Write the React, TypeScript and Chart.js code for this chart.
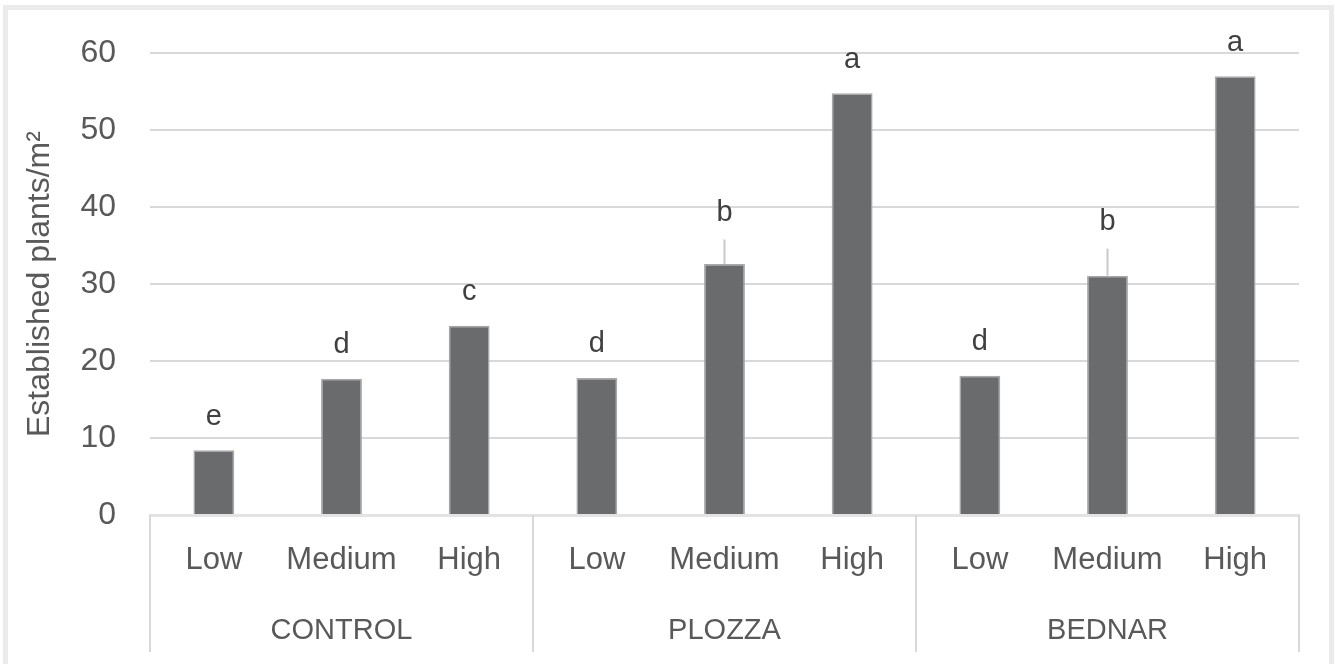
import React, { useEffect, useRef } from "react";
import { Chart, registerables } from "chart.js";

Chart.register(...registerables);

const categories = ["Low", "Medium", "High", "Low", "Medium", "High", "Low", "Medium", "High"];
const groups = ["CONTROL", "PLOZZA", "BEDNAR"];
const values = [8.4, 17.7, 24.6, 17.8, 32.6, 54.8, 18.1, 31.1, 57.0];
const errors = [0, 0, 0, 0, 3.2, 0, 0, 3.5, 0];
const letters = ["e", "d", "c", "d", "b", "a", "d", "b", "a"];
const yTicks = [0, 10, 20, 30, 40, 50, 60];

const FONT = "'Liberation Sans', Arial, sans-serif";
const TEXT = "#595959";
const GRID = "#d9d9d9";

const decorPlugin = {
  id: "decor",
  beforeDraw(chart: any) {
    const ctx = chart.ctx;
    ctx.save();
    ctx.fillStyle = "#ffffff";
    ctx.fillRect(0, 0, chart.width, chart.height);
    ctx.strokeStyle = "#ebebeb";
    ctx.lineWidth = 5;
    ctx.strokeRect(5.5, 7.5, chart.width - 9, chart.height + 40);
    ctx.restore();
  },
  afterDatasetsDraw(chart: any) {
    const ctx = chart.ctx;
    const x = chart.scales.x;
    const y = chart.scales.y;
    const area = chart.chartArea;
    ctx.save();
    // error bars
    ctx.strokeStyle = "#c8c8c8";
    ctx.lineWidth = 2;
    values.forEach((v, i) => {
      if (errors[i] > 0) {
        const px = x.getPixelForValue(i);
        ctx.beginPath();
        ctx.moveTo(px, y.getPixelForValue(v));
        ctx.lineTo(px, y.getPixelForValue(v + errors[i]));
        ctx.stroke();
      }
    });
    // significance letters
    ctx.fillStyle = "#404040";
    ctx.font = `29px ${FONT}`;
    ctx.textAlign = "center";
    ctx.textBaseline = "bottom";
    values.forEach((v, i) => {
      const px = x.getPixelForValue(i);
      const top = y.getPixelForValue(v + errors[i]);
      const gap = errors[i] > 0 ? 12 : 19;
      ctx.fillText(letters[i], px, top - gap);
    });
    // group separators and labels
    const per = categories.length / groups.length;
    const step = (area.right - area.left) / categories.length;
    ctx.strokeStyle = GRID;
    ctx.lineWidth = 2;
    for (let g = 0; g <= groups.length; g++) {
      const gx = area.left + g * per * step;
      ctx.beginPath();
      ctx.moveTo(gx, area.bottom);
      ctx.lineTo(gx, area.bottom + 137);
      ctx.stroke();
    }
    ctx.fillStyle = TEXT;
    ctx.font = `29px ${FONT}`;
    ctx.textBaseline = "middle";
    groups.forEach((name, g) => {
      const cx = area.left + (g * per + per / 2) * step;
      ctx.fillText(name, cx, area.bottom + 116);
    });
    ctx.restore();
  },
};

export default function App() {
  const canvasRef = useRef<HTMLCanvasElement | null>(null);

  useEffect(() => {
    const canvas = canvasRef.current;
    if (!canvas) return;
    const chart = new Chart(canvas, {
      type: "bar",
      data: {
        labels: categories,
        datasets: [
          {
            data: values,
            backgroundColor: "#6a6b6d",
            borderColor: "#a8a8aa",
            borderWidth: 1.5,
            categoryPercentage: 1,
            barPercentage: 0.32,
          },
        ],
      },
      options: {
        animation: false,
        responsive: true,
        maintainAspectRatio: false,
        layout: { padding: { left: 0, top: 50, right: 36, bottom: 0 } },
        plugins: {
          legend: { display: false },
          tooltip: { enabled: false },
        },
        scales: {
          x: {
            grid: { display: false, drawTicks: false },
            border: { display: true, color: "#e3e3e3", width: 3 },
            ticks: {
              color: TEXT,
              font: { family: FONT, size: 31 },
              padding: 27,
              maxRotation: 0,
              autoSkip: false,
            },
            afterFit: (s: any) => {
              s.height = 149;
            },
          },
          y: {
            min: 0,
            max: 60,
            afterBuildTicks: (s: any) => {
              s.ticks = yTicks.map((v) => ({ value: v }));
            },
            grid: { color: GRID, lineWidth: 2, drawTicks: false },
            border: { display: false },
            ticks: {
              color: TEXT,
              font: { family: FONT, size: 32 },
              padding: 34,
            },
            title: {
              display: true,
              text: "Established plants/m²",
              color: TEXT,
              font: { family: FONT, size: 32 },
              padding: { top: 21, bottom: 0 },
            },
            afterFit: (s: any) => {
              s.width = 150;
            },
          },
        },
      },
      plugins: [decorPlugin],
    });
    return () => chart.destroy();
  }, []);

  return (
    <div style={{ position: "fixed", left: 0, top: 0, width: 1335, height: 664 }}>
      <canvas ref={canvasRef} />
    </div>
  );
}
